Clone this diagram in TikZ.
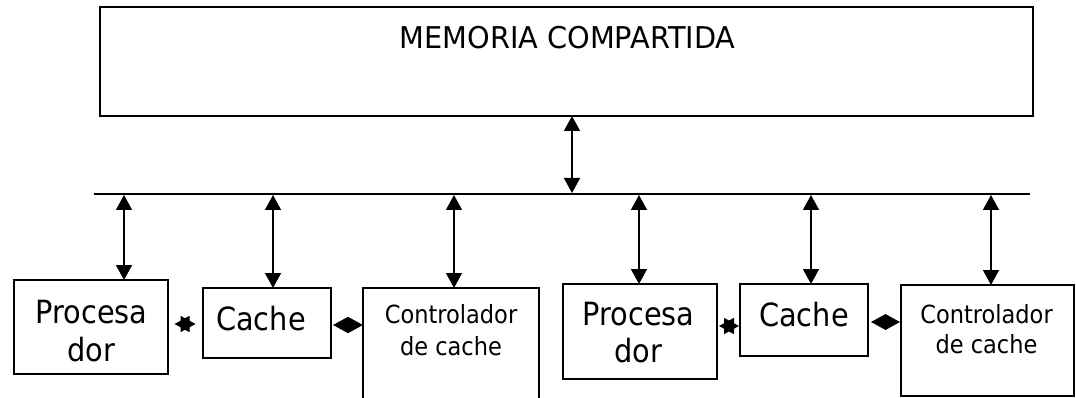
\documentclass[tikz,border=0pt]{standalone}
\usepackage{fontspec}
\setmainfont{DejaVu Sans}
\newfontfamily\memfont[FakeStretch=0.96]{DejaVu Sans}
\newfontfamily\boxfont[FakeStretch=0.9]{DejaVu Sans}
\usetikzlibrary{arrows.meta}
\tikzset{
  box/.style={draw, line width=2pt, rectangle, inner sep=0pt, outer sep=0pt, anchor=north west},
  bigtxt/.style={inner sep=0pt, anchor=base, font=\boxfont\fontsize{32pt}{36pt}\selectfont},
  midtxt/.style={inner sep=0pt, anchor=base, font=\boxfont\fontsize{25pt}{29pt}\selectfont},
  memtxt/.style={inner sep=0pt, anchor=base, font=\memfont\fontsize{30pt}{34pt}\selectfont},
  arr/.style={line width=1.5pt, {Triangle[length=15pt,width=16pt]}-{Triangle[length=15pt,width=16pt]}},
  busline/.style={line width=2pt}
}
\begin{document}
\begin{tikzpicture}[x=1pt,y=-1pt]
\clip (0,0) rectangle (1076,398);
\fill[white] (0,0) rectangle (1076,398);
% memory
\node[box, minimum width=933pt, minimum height=109pt] (mem) at (100,7) {};
\node[memtxt] (memt) at (567.5,49) {MEMORIA COMPARTIDA};
% bus
\coordinate (busL) at (94,194);
\coordinate (busR) at (1030,194);
\draw[busline] (busL) -- (busR);
\coordinate (am) at (572,193);
\draw[arr] (am |- mem.south) -- (am);
% boxes
\node[box, minimum width=154pt, minimum height=94pt] (proc1) at (14,280) {};
\node[box, minimum width=128pt, minimum height=70pt] (cache1) at (203,288) {};
\node[box, minimum width=176pt, minimum height=130pt] (ctrl1) at (363,288) {};
\node[box, minimum width=154pt, minimum height=95pt] (proc2) at (563,284) {};
\node[box, minimum width=128pt, minimum height=72pt] (cache2) at (740,284) {};
\node[box, minimum width=173pt, minimum height=111pt] (ctrl2) at (901,285) {};
% texts
\node[bigtxt] (p1a) at (91.5,323) {Procesa};
\node[bigtxt] (p1b) at (91.5,361) {dor};
\node[bigtxt] (c1t) at (261,330) {Cache};
\node[midtxt] (k1a) at (451,323) {Controlador};
\node[midtxt] (k1b) at (451,355) {de cache};
\node[bigtxt] (p2a) at (638.5,325) {Procesa};
\node[bigtxt] (p2b) at (638.5,362) {dor};
\node[bigtxt] (c2t) at (804,326) {Cache};
\node[midtxt] (k2a) at (986.5,323) {Controlador};
\node[midtxt] (k2b) at (986.5,353) {de cache};
% bus arrows
\coordinate (a1) at (124,195);
\coordinate (a2) at (273,195);
\coordinate (a3) at (454,195);
\coordinate (a4) at (639,195);
\coordinate (a5) at (811,195);
\coordinate (a6) at (991,195);
\draw[arr] (a1) -- (a1 |- proc1.north);
\draw[arr] (a2) -- (a2 |- cache1.north);
\draw[arr] (a3) -- (a3 |- ctrl1.north);
\draw[arr] (a4) -- (a4 |- proc2.north);
\draw[arr] (a5) -- (a5 |- cache2.north);
\draw[arr] (a6) -- (a6 |- ctrl2.north);
% horizontal links
\coordinate (s1) at (185,324);
\coordinate (d1) at (348,325);
\coordinate (s2) at (729,326);
\coordinate (d2) at (886,322);
\draw[arr, shorten <=6.5pt, shorten >=7.5pt] (proc1.east |- s1) -- (cache1.west |- s1);
\draw[arr, shorten <=2pt] (cache1.east |- d1) -- (ctrl1.west |- d1);
\draw[arr, shorten <=2pt, shorten >=1pt] (proc2.east |- s2) -- (cache2.west |- s2);
\draw[arr, shorten <=3pt, shorten >=1pt] (cache2.east |- d2) -- (ctrl2.west |- d2);
\end{tikzpicture}
\end{document}
